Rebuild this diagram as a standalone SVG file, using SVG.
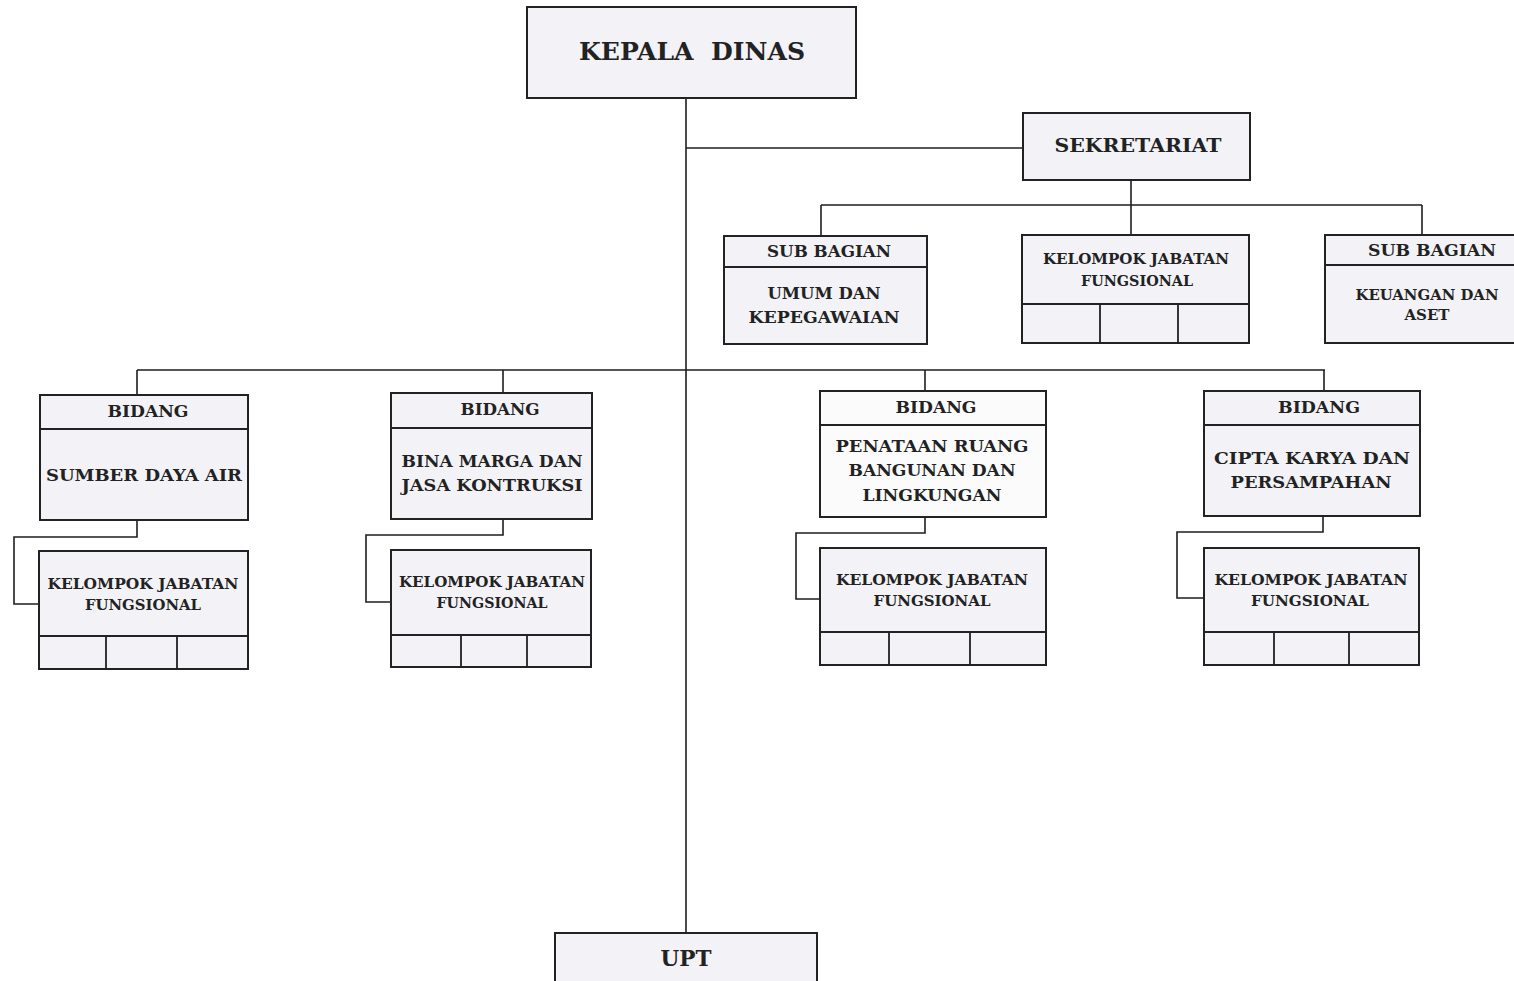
<svg xmlns="http://www.w3.org/2000/svg" width="1514" height="981" viewBox="0 0 1514 981">
<style>
.b{fill:#f3f3f7;stroke:#222;stroke-width:2}
.d{stroke:#222;stroke-width:1.8;fill:none}
.c{stroke:#1e1e1e;stroke-width:1.6;fill:none}
text{font-family:"DejaVu Serif","Liberation Serif",serif;font-weight:bold;fill:#222;text-anchor:middle}
.s15{font-size:14px}
.s17{font-size:16px}
</style>
<rect width="1514" height="981" fill="#fff"/>
<g id="connectors" class="c">
<path d="M686 98V933"/>
<path d="M686 148H1023"/>
<path d="M1131 180V205M821 205H1422M821 205V236M1131 205V235M1422 205V235"/>
<path d="M137 370H1325M137 370V395M503 370V393M925 370V391M1324 370V391"/>
<path d="M137 520V537H14V604H39"/>
<path d="M503 519V535H366V602H391"/>
<path d="M925 517V533H796V599H820"/>
<path d="M1323 516V532H1177V598H1204"/>
</g>
<g id="kepala-dinas">
<rect class="b" x="527" y="7" width="329" height="91"/>
<text x="692" y="60" font-size="24" textLength="226" lengthAdjust="spacingAndGlyphs" xml:space="preserve">KEPALA  DINAS</text>
</g>
<g id="sekretariat">
<rect class="b" x="1023" y="113" width="227" height="67"/>
<text x="1138" y="152" font-size="19" textLength="167" lengthAdjust="spacingAndGlyphs">SEKRETARIAT</text>
</g>
<g id="subbag-umum">
<rect class="b" x="724" y="236" width="203" height="108"/>
<path class="d" d="M724 267H927"/>
<text class="s17" x="829" y="257" textLength="124" lengthAdjust="spacingAndGlyphs">SUB BAGIAN</text>
<text class="s17" x="824" y="299" textLength="113" lengthAdjust="spacingAndGlyphs">UMUM DAN</text>
<text class="s17" x="824" y="323" textLength="151" lengthAdjust="spacingAndGlyphs">KEPEGAWAIAN</text>
</g>
<g id="kjf-sekretariat">
<rect class="b" x="1022" y="235" width="227" height="108"/>
<path class="d" d="M1022 304H1249M1100 304V343M1178 304V343"/>
<text class="s15" x="1136" y="264" textLength="186" lengthAdjust="spacingAndGlyphs" style="font-weight:600">KELOMPOK JABATAN</text>
<text class="s15" x="1137" y="286" textLength="112" lengthAdjust="spacingAndGlyphs">FUNGSIONAL</text>
</g>
<g id="subbag-keuangan">
<rect class="b" x="1325" y="235" width="195" height="108"/>
<path class="d" d="M1325 265H1514"/>
<text class="s17" x="1432" y="256" textLength="128" lengthAdjust="spacingAndGlyphs">SUB BAGIAN</text>
<text class="s15" x="1427" y="300" textLength="143" lengthAdjust="spacingAndGlyphs">KEUANGAN DAN</text>
<text class="s15" x="1427" y="320" textLength="45" lengthAdjust="spacingAndGlyphs">ASET</text>
</g>
<g id="bidang-sda">
<rect class="b" x="40" y="395" width="208" height="125"/>
<path class="d" d="M40 429H248"/>
<text class="s17" x="148" y="417" textLength="81" lengthAdjust="spacingAndGlyphs">BIDANG</text>
<text class="s17" x="144" y="481" textLength="196" lengthAdjust="spacingAndGlyphs">SUMBER DAYA AIR</text>
</g>
<g id="kjf-sda">
<rect class="b" x="39" y="551" width="209" height="118"/>
<path class="d" d="M39 636H248M106 636V669M177 636V669"/>
<text class="s15" x="143" y="589" textLength="191" lengthAdjust="spacingAndGlyphs">KELOMPOK JABATAN</text>
<text class="s15" x="143" y="610" textLength="116" lengthAdjust="spacingAndGlyphs">FUNGSIONAL</text>
</g>
<g id="bidang-bina-marga">
<rect class="b" x="391" y="393" width="201" height="126"/>
<path class="d" d="M391 428H592"/>
<text class="s17" x="500" y="415" textLength="79" lengthAdjust="spacingAndGlyphs">BIDANG</text>
<text class="s17" x="492" y="467" textLength="181" lengthAdjust="spacingAndGlyphs">BINA MARGA DAN</text>
<text class="s17" x="492" y="491" textLength="181" lengthAdjust="spacingAndGlyphs">JASA KONTRUKSI</text>
</g>
<g id="kjf-bina-marga">
<rect class="b" x="391" y="550" width="200" height="117"/>
<path class="d" d="M391 635H591M461 635V667M527 635V667"/>
<text class="s15" x="492" y="587" textLength="186" lengthAdjust="spacingAndGlyphs">KELOMPOK JABATAN</text>
<text class="s15" x="492" y="608" textLength="111" lengthAdjust="spacingAndGlyphs">FUNGSIONAL</text>
</g>
<g id="bidang-penataan-ruang">
<rect class="b" x="820" y="391" width="226" height="126" style="fill:#fbfbfc"/>
<path class="d" d="M820 425H1046"/>
<text class="s17" x="936" y="413" textLength="81" lengthAdjust="spacingAndGlyphs">BIDANG</text>
<text class="s17" x="932" y="452" textLength="193" lengthAdjust="spacingAndGlyphs" style="font-weight:600">PENATAAN RUANG</text>
<text class="s17" x="932" y="476" textLength="167" lengthAdjust="spacingAndGlyphs" style="font-weight:600">BANGUNAN DAN</text>
<text class="s17" x="932" y="501" textLength="139" lengthAdjust="spacingAndGlyphs" style="font-weight:600">LINGKUNGAN</text>
</g>
<g id="kjf-penataan-ruang">
<rect class="b" x="820" y="548" width="226" height="117"/>
<path class="d" d="M820 632H1046M889 632V665M970 632V665"/>
<text class="s15" x="932" y="585" textLength="192" lengthAdjust="spacingAndGlyphs">KELOMPOK JABATAN</text>
<text class="s15" x="932" y="606" textLength="117" lengthAdjust="spacingAndGlyphs">FUNGSIONAL</text>
</g>
<g id="bidang-cipta-karya">
<rect class="b" x="1204" y="391" width="216" height="125"/>
<path class="d" d="M1204 425H1420"/>
<text class="s17" x="1319" y="413" textLength="82" lengthAdjust="spacingAndGlyphs">BIDANG</text>
<text class="s17" x="1312" y="464" textLength="196" lengthAdjust="spacingAndGlyphs" style="font-weight:600">CIPTA KARYA DAN</text>
<text class="s17" x="1311" y="488" textLength="161" lengthAdjust="spacingAndGlyphs" style="font-weight:600">PERSAMPAHAN</text>
</g>
<g id="kjf-cipta-karya">
<rect class="b" x="1204" y="548" width="215" height="117"/>
<path class="d" d="M1204 632H1419M1274 632V665M1349 632V665"/>
<text class="s15" x="1311" y="585" textLength="193" lengthAdjust="spacingAndGlyphs">KELOMPOK JABATAN</text>
<text class="s15" x="1310" y="606" textLength="118" lengthAdjust="spacingAndGlyphs">FUNGSIONAL</text>
</g>
<g id="upt">
<rect class="b" x="555" y="933" width="262" height="60"/>
<text x="686" y="966" font-size="22" textLength="51" lengthAdjust="spacingAndGlyphs">UPT</text>
</g>
</svg>
